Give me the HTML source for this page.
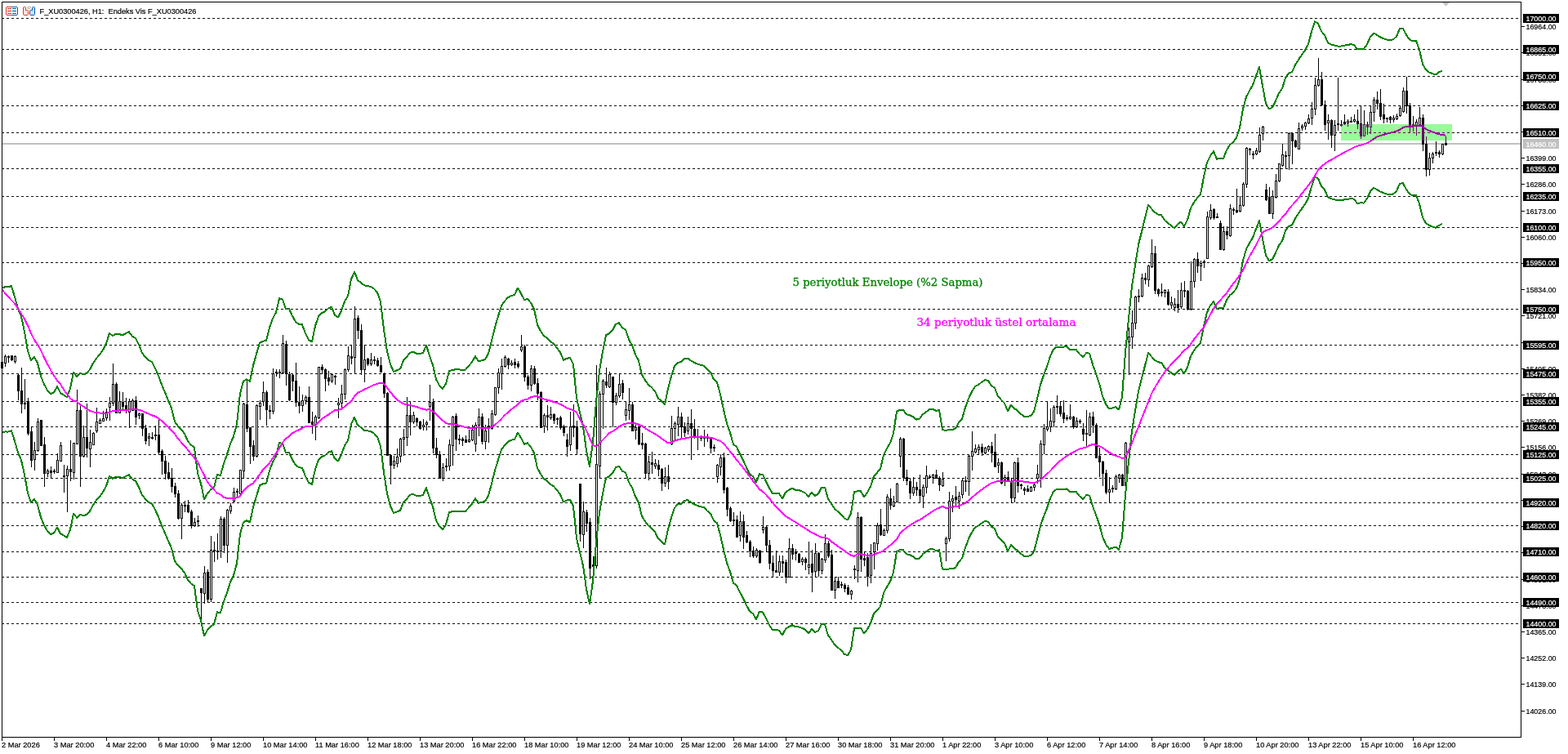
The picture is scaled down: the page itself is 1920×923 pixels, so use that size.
<!DOCTYPE html><html><head><meta charset="utf-8"><title>F_XU0300426,H1</title><style>
html,body{margin:0;padding:0;background:#fff;width:1920px;height:923px;overflow:hidden}
svg{display:block}
.t{font-family:"Liberation Sans","DejaVu Sans",sans-serif;font-size:9.6px;fill:#000;stroke:#000;stroke-width:0.2px}
.w{fill:#fff;stroke:#fff}
.ann{font-family:"DejaVu Serif","Liberation Serif",serif;font-size:13px;stroke-width:0.3px}
</style></head><body>
<svg width="1920" height="923" viewBox="0 0 1920 923">
<defs><clipPath id="ca"><rect x="3" y="3" width="1859" height="899"/></clipPath></defs>
<rect width="1920" height="923" fill="#fff"/>
<g stroke="#000" stroke-width="1" stroke-dasharray="3 3" shape-rendering="crispEdges">
<line x1="2" y1="22.5" x2="1862" y2="22.5"/>
<line x1="2" y1="60.5" x2="1862" y2="60.5"/>
<line x1="2" y1="93.5" x2="1862" y2="93.5"/>
<line x1="2" y1="129.5" x2="1862" y2="129.5"/>
<line x1="2" y1="162.5" x2="1862" y2="162.5"/>
<line x1="2" y1="206.5" x2="1862" y2="206.5"/>
<line x1="2" y1="240.5" x2="1862" y2="240.5"/>
<line x1="2" y1="278.5" x2="1862" y2="278.5"/>
<line x1="2" y1="321.5" x2="1862" y2="321.5"/>
<line x1="2" y1="378.5" x2="1862" y2="378.5"/>
<line x1="2" y1="422.5" x2="1862" y2="422.5"/>
<line x1="2" y1="457.5" x2="1862" y2="457.5"/>
<line x1="2" y1="491.5" x2="1862" y2="491.5"/>
<line x1="2" y1="522.5" x2="1862" y2="522.5"/>
<line x1="2" y1="556.5" x2="1862" y2="556.5"/>
<line x1="2" y1="585.5" x2="1862" y2="585.5"/>
<line x1="2" y1="615.5" x2="1862" y2="615.5"/>
<line x1="2" y1="643.5" x2="1862" y2="643.5"/>
<line x1="2" y1="675.5" x2="1862" y2="675.5"/>
<line x1="2" y1="706.5" x2="1862" y2="706.5"/>
<line x1="2" y1="737.5" x2="1862" y2="737.5"/>
<line x1="2" y1="763.5" x2="1862" y2="763.5"/>
</g>
<rect x="3" y="175" width="1859" height="2" fill="#c0c0c0"/>
<g fill="#000" shape-rendering="crispEdges"><rect x="2" y="443" width="1" height="8"/><rect x="1" y="443" width="3" height="8"/><rect x="6" y="434" width="1" height="15"/><rect x="5" y="436" width="3" height="9"/><rect x="10" y="435" width="1" height="9"/><rect x="9" y="436" width="3" height="2"/><rect x="14" y="435" width="1" height="7"/><rect x="13" y="435" width="3" height="6"/><rect x="18" y="435" width="1" height="10"/><rect x="17" y="436" width="3" height="7"/><rect x="22" y="458" width="1" height="32"/><rect x="21" y="459" width="3" height="20"/><rect x="26" y="450" width="1" height="56"/><rect x="25" y="478" width="3" height="17"/><rect x="30" y="464" width="1" height="37"/><rect x="29" y="493" width="3" height="2"/><rect x="34" y="487" width="1" height="46"/><rect x="33" y="491" width="3" height="40"/><rect x="38" y="523" width="1" height="49"/><rect x="37" y="528" width="3" height="36"/><rect x="42" y="541" width="1" height="35"/><rect x="41" y="551" width="3" height="12"/><rect x="46" y="512" width="1" height="41"/><rect x="45" y="516" width="3" height="36"/><rect x="50" y="514" width="1" height="32"/><rect x="49" y="514" width="3" height="32"/><rect x="54" y="535" width="1" height="61"/><rect x="53" y="544" width="3" height="36"/><rect x="58" y="574" width="1" height="10"/><rect x="57" y="576" width="3" height="4"/><rect x="62" y="571" width="1" height="15"/><rect x="61" y="576" width="3" height="3"/><rect x="66" y="574" width="1" height="6"/><rect x="65" y="576" width="3" height="2"/><rect x="70" y="555" width="1" height="24"/><rect x="69" y="563" width="3" height="16"/><rect x="74" y="541" width="1" height="24"/><rect x="73" y="545" width="3" height="20"/><rect x="78" y="569" width="1" height="34"/><rect x="77" y="582" width="3" height="2"/><rect x="82" y="570" width="1" height="57"/><rect x="81" y="574" width="3" height="9"/><rect x="86" y="539" width="1" height="50"/><rect x="85" y="574" width="3" height="4"/><rect x="90" y="542" width="1" height="45"/><rect x="89" y="542" width="3" height="37"/><rect x="94" y="477" width="1" height="67"/><rect x="93" y="502" width="3" height="42"/><rect x="98" y="497" width="1" height="99"/><rect x="97" y="502" width="3" height="57"/><rect x="102" y="521" width="1" height="39"/><rect x="101" y="535" width="3" height="24"/><rect x="106" y="494" width="1" height="66"/><rect x="105" y="535" width="3" height="14"/><rect x="110" y="526" width="1" height="46"/><rect x="109" y="541" width="3" height="9"/><rect x="114" y="529" width="1" height="16"/><rect x="113" y="530" width="3" height="15"/><rect x="118" y="499" width="1" height="31"/><rect x="117" y="516" width="3" height="12"/><rect x="122" y="512" width="1" height="7"/><rect x="121" y="514" width="3" height="5"/><rect x="126" y="503" width="1" height="13"/><rect x="125" y="512" width="3" height="4"/><rect x="130" y="500" width="1" height="15"/><rect x="129" y="504" width="3" height="8"/><rect x="134" y="486" width="1" height="29"/><rect x="133" y="493" width="3" height="6"/><rect x="138" y="445" width="1" height="52"/><rect x="137" y="470" width="3" height="24"/><rect x="142" y="468" width="1" height="38"/><rect x="141" y="470" width="3" height="36"/><rect x="146" y="479" width="1" height="27"/><rect x="145" y="491" width="3" height="15"/><rect x="150" y="480" width="1" height="23"/><rect x="149" y="492" width="3" height="6"/><rect x="154" y="487" width="1" height="19"/><rect x="153" y="496" width="3" height="6"/><rect x="158" y="488" width="1" height="36"/><rect x="157" y="491" width="3" height="14"/><rect x="162" y="488" width="1" height="15"/><rect x="161" y="490" width="3" height="13"/><rect x="166" y="485" width="1" height="35"/><rect x="165" y="490" width="3" height="21"/><rect x="170" y="505" width="1" height="8"/><rect x="169" y="506" width="3" height="3"/><rect x="174" y="506" width="1" height="28"/><rect x="173" y="506" width="3" height="19"/><rect x="178" y="520" width="1" height="24"/><rect x="177" y="524" width="3" height="16"/><rect x="182" y="530" width="1" height="16"/><rect x="181" y="534" width="3" height="3"/><rect x="186" y="529" width="1" height="9"/><rect x="185" y="535" width="3" height="2"/><rect x="190" y="521" width="1" height="18"/><rect x="189" y="532" width="3" height="2"/><rect x="194" y="514" width="1" height="43"/><rect x="193" y="532" width="3" height="22"/><rect x="198" y="550" width="1" height="31"/><rect x="197" y="552" width="3" height="13"/><rect x="202" y="558" width="1" height="29"/><rect x="201" y="564" width="3" height="16"/><rect x="206" y="566" width="1" height="21"/><rect x="205" y="578" width="3" height="8"/><rect x="210" y="573" width="1" height="30"/><rect x="209" y="585" width="3" height="11"/><rect x="214" y="591" width="1" height="18"/><rect x="213" y="595" width="3" height="10"/><rect x="218" y="600" width="1" height="36"/><rect x="217" y="604" width="3" height="31"/><rect x="222" y="616" width="1" height="44"/><rect x="221" y="618" width="3" height="17"/><rect x="226" y="613" width="1" height="14"/><rect x="225" y="618" width="3" height="2"/><rect x="230" y="612" width="1" height="16"/><rect x="229" y="618" width="3" height="9"/><rect x="234" y="624" width="1" height="23"/><rect x="233" y="626" width="3" height="18"/><rect x="238" y="634" width="1" height="11"/><rect x="237" y="639" width="3" height="5"/><rect x="242" y="631" width="1" height="14"/><rect x="241" y="637" width="3" height="2"/><rect x="246" y="720" width="1" height="38"/><rect x="245" y="720" width="3" height="6"/><rect x="250" y="693" width="1" height="46"/><rect x="249" y="701" width="3" height="26"/><rect x="254" y="697" width="1" height="41"/><rect x="253" y="700" width="3" height="34"/><rect x="258" y="656" width="1" height="81"/><rect x="257" y="673" width="3" height="61"/><rect x="262" y="663" width="1" height="25"/><rect x="261" y="673" width="3" height="2"/><rect x="266" y="653" width="1" height="32"/><rect x="265" y="674" width="3" height="2"/><rect x="270" y="632" width="1" height="51"/><rect x="269" y="635" width="3" height="40"/><rect x="274" y="633" width="1" height="44"/><rect x="273" y="635" width="3" height="33"/><rect x="278" y="623" width="1" height="66"/><rect x="277" y="624" width="3" height="44"/><rect x="282" y="616" width="1" height="13"/><rect x="281" y="619" width="3" height="7"/><rect x="286" y="597" width="1" height="18"/><rect x="285" y="602" width="3" height="12"/><rect x="290" y="598" width="1" height="11"/><rect x="289" y="601" width="3" height="2"/><rect x="294" y="575" width="1" height="31"/><rect x="293" y="575" width="3" height="30"/><rect x="298" y="493" width="1" height="92"/><rect x="297" y="494" width="3" height="83"/><rect x="302" y="465" width="1" height="64"/><rect x="301" y="495" width="3" height="30"/><rect x="306" y="523" width="1" height="45"/><rect x="305" y="523" width="3" height="24"/><rect x="310" y="539" width="1" height="25"/><rect x="309" y="545" width="3" height="14"/><rect x="314" y="495" width="1" height="65"/><rect x="313" y="496" width="3" height="63"/><rect x="318" y="490" width="1" height="24"/><rect x="317" y="493" width="3" height="5"/><rect x="322" y="467" width="1" height="30"/><rect x="321" y="480" width="3" height="12"/><rect x="326" y="478" width="1" height="43"/><rect x="325" y="480" width="3" height="22"/><rect x="330" y="496" width="1" height="17"/><rect x="329" y="502" width="3" height="2"/><rect x="334" y="451" width="1" height="56"/><rect x="333" y="457" width="3" height="47"/><rect x="338" y="452" width="1" height="9"/><rect x="337" y="455" width="3" height="2"/><rect x="342" y="452" width="1" height="11"/><rect x="341" y="455" width="3" height="2"/><rect x="346" y="410" width="1" height="47"/><rect x="345" y="420" width="3" height="37"/><rect x="350" y="417" width="1" height="55"/><rect x="349" y="421" width="3" height="37"/><rect x="354" y="455" width="1" height="36"/><rect x="353" y="458" width="3" height="32"/><rect x="358" y="457" width="1" height="22"/><rect x="357" y="459" width="3" height="8"/><rect x="362" y="444" width="1" height="54"/><rect x="361" y="466" width="3" height="27"/><rect x="366" y="473" width="1" height="33"/><rect x="365" y="492" width="3" height="5"/><rect x="370" y="483" width="1" height="21"/><rect x="369" y="490" width="3" height="7"/><rect x="374" y="484" width="1" height="11"/><rect x="373" y="486" width="3" height="5"/><rect x="378" y="473" width="1" height="45"/><rect x="377" y="486" width="3" height="32"/><rect x="382" y="504" width="1" height="27"/><rect x="381" y="516" width="3" height="4"/><rect x="386" y="508" width="1" height="31"/><rect x="385" y="510" width="3" height="11"/><rect x="390" y="449" width="1" height="64"/><rect x="389" y="449" width="3" height="63"/><rect x="394" y="446" width="1" height="12"/><rect x="393" y="449" width="3" height="4"/><rect x="398" y="451" width="1" height="28"/><rect x="397" y="452" width="3" height="12"/><rect x="402" y="454" width="1" height="18"/><rect x="401" y="462" width="3" height="5"/><rect x="406" y="457" width="1" height="12"/><rect x="405" y="458" width="3" height="9"/><rect x="410" y="459" width="1" height="12"/><rect x="409" y="460" width="3" height="2"/><rect x="414" y="487" width="1" height="25"/><rect x="413" y="493" width="3" height="3"/><rect x="418" y="471" width="1" height="29"/><rect x="417" y="482" width="3" height="12"/><rect x="422" y="451" width="1" height="38"/><rect x="421" y="452" width="3" height="31"/><rect x="426" y="424" width="1" height="31"/><rect x="425" y="435" width="3" height="18"/><rect x="430" y="422" width="1" height="24"/><rect x="429" y="436" width="3" height="3"/><rect x="434" y="375" width="1" height="82"/><rect x="433" y="390" width="3" height="48"/><rect x="438" y="386" width="1" height="29"/><rect x="437" y="389" width="3" height="16"/><rect x="442" y="397" width="1" height="62"/><rect x="441" y="404" width="3" height="49"/><rect x="446" y="422" width="1" height="46"/><rect x="445" y="440" width="3" height="13"/><rect x="450" y="438" width="1" height="10"/><rect x="449" y="439" width="3" height="7"/><rect x="454" y="432" width="1" height="16"/><rect x="453" y="440" width="3" height="6"/><rect x="458" y="436" width="1" height="10"/><rect x="457" y="440" width="3" height="2"/><rect x="462" y="438" width="1" height="11"/><rect x="461" y="441" width="3" height="7"/><rect x="466" y="437" width="1" height="19"/><rect x="465" y="447" width="3" height="9"/><rect x="470" y="456" width="1" height="31"/><rect x="469" y="457" width="3" height="25"/><rect x="474" y="480" width="1" height="78"/><rect x="473" y="481" width="3" height="77"/><rect x="478" y="556" width="1" height="37"/><rect x="477" y="557" width="3" height="13"/><rect x="482" y="558" width="1" height="16"/><rect x="481" y="564" width="3" height="6"/><rect x="486" y="549" width="1" height="23"/><rect x="485" y="559" width="3" height="9"/><rect x="490" y="536" width="1" height="30"/><rect x="489" y="537" width="3" height="22"/><rect x="494" y="525" width="1" height="33"/><rect x="493" y="535" width="3" height="3"/><rect x="498" y="486" width="1" height="60"/><rect x="497" y="508" width="3" height="28"/><rect x="502" y="491" width="1" height="42"/><rect x="501" y="508" width="3" height="9"/><rect x="506" y="504" width="1" height="15"/><rect x="505" y="508" width="3" height="9"/><rect x="510" y="511" width="1" height="11"/><rect x="509" y="512" width="3" height="5"/><rect x="514" y="515" width="1" height="11"/><rect x="513" y="516" width="3" height="9"/><rect x="518" y="513" width="1" height="14"/><rect x="517" y="520" width="3" height="3"/><rect x="522" y="515" width="1" height="12"/><rect x="521" y="517" width="3" height="3"/><rect x="526" y="471" width="1" height="44"/><rect x="525" y="492" width="3" height="6"/><rect x="530" y="488" width="1" height="67"/><rect x="529" y="492" width="3" height="57"/><rect x="534" y="536" width="1" height="25"/><rect x="533" y="548" width="3" height="9"/><rect x="538" y="552" width="1" height="34"/><rect x="537" y="556" width="3" height="30"/><rect x="542" y="567" width="1" height="22"/><rect x="541" y="572" width="3" height="14"/><rect x="546" y="561" width="1" height="16"/><rect x="545" y="570" width="3" height="2"/><rect x="550" y="538" width="1" height="38"/><rect x="549" y="544" width="3" height="27"/><rect x="554" y="509" width="1" height="61"/><rect x="553" y="510" width="3" height="36"/><rect x="558" y="506" width="1" height="46"/><rect x="557" y="509" width="3" height="29"/><rect x="562" y="532" width="1" height="12"/><rect x="561" y="537" width="3" height="2"/><rect x="566" y="535" width="1" height="11"/><rect x="565" y="537" width="3" height="3"/><rect x="570" y="533" width="1" height="9"/><rect x="569" y="538" width="3" height="4"/><rect x="574" y="526" width="1" height="16"/><rect x="573" y="538" width="3" height="3"/><rect x="578" y="520" width="1" height="20"/><rect x="577" y="526" width="3" height="13"/><rect x="582" y="517" width="1" height="36"/><rect x="581" y="520" width="3" height="24"/><rect x="586" y="500" width="1" height="34"/><rect x="585" y="510" width="3" height="11"/><rect x="590" y="506" width="1" height="38"/><rect x="589" y="510" width="3" height="31"/><rect x="594" y="520" width="1" height="30"/><rect x="593" y="527" width="3" height="14"/><rect x="598" y="512" width="1" height="30"/><rect x="597" y="521" width="3" height="4"/><rect x="602" y="502" width="1" height="24"/><rect x="601" y="506" width="3" height="19"/><rect x="606" y="474" width="1" height="35"/><rect x="605" y="474" width="3" height="34"/><rect x="610" y="451" width="1" height="31"/><rect x="609" y="456" width="3" height="19"/><rect x="614" y="439" width="1" height="38"/><rect x="613" y="448" width="3" height="10"/><rect x="618" y="435" width="1" height="15"/><rect x="617" y="437" width="3" height="12"/><rect x="622" y="438" width="1" height="14"/><rect x="621" y="439" width="3" height="8"/><rect x="626" y="441" width="1" height="7"/><rect x="625" y="444" width="3" height="3"/><rect x="630" y="439" width="1" height="12"/><rect x="629" y="443" width="3" height="4"/><rect x="634" y="442" width="1" height="9"/><rect x="633" y="445" width="3" height="4"/><rect x="638" y="410" width="1" height="21"/><rect x="637" y="424" width="3" height="5"/><rect x="642" y="422" width="1" height="45"/><rect x="641" y="424" width="3" height="38"/><rect x="646" y="459" width="1" height="18"/><rect x="645" y="461" width="3" height="11"/><rect x="650" y="447" width="1" height="32"/><rect x="649" y="451" width="3" height="21"/><rect x="654" y="448" width="1" height="23"/><rect x="653" y="451" width="3" height="19"/><rect x="658" y="463" width="1" height="27"/><rect x="657" y="469" width="3" height="13"/><rect x="662" y="479" width="1" height="45"/><rect x="661" y="480" width="3" height="44"/><rect x="666" y="506" width="1" height="24"/><rect x="665" y="508" width="3" height="14"/><rect x="670" y="496" width="1" height="31"/><rect x="669" y="508" width="3" height="3"/><rect x="674" y="498" width="1" height="16"/><rect x="673" y="507" width="3" height="5"/><rect x="678" y="506" width="1" height="13"/><rect x="677" y="507" width="3" height="8"/><rect x="682" y="511" width="1" height="9"/><rect x="681" y="512" width="3" height="2"/><rect x="686" y="509" width="1" height="17"/><rect x="685" y="511" width="3" height="13"/><rect x="690" y="520" width="1" height="14"/><rect x="689" y="522" width="3" height="8"/><rect x="694" y="531" width="1" height="28"/><rect x="693" y="538" width="3" height="9"/><rect x="698" y="504" width="1" height="48"/><rect x="697" y="522" width="3" height="23"/><rect x="702" y="495" width="1" height="40"/><rect x="701" y="521" width="3" height="3"/><rect x="706" y="515" width="1" height="42"/><rect x="705" y="522" width="3" height="28"/><rect x="710" y="592" width="1" height="71"/><rect x="709" y="592" width="3" height="62"/><rect x="714" y="614" width="1" height="57"/><rect x="713" y="626" width="3" height="29"/><rect x="718" y="624" width="1" height="27"/><rect x="717" y="627" width="3" height="14"/><rect x="722" y="634" width="1" height="75"/><rect x="721" y="639" width="3" height="57"/><rect x="726" y="681" width="1" height="18"/><rect x="725" y="691" width="3" height="3"/><rect x="730" y="447" width="1" height="249"/><rect x="729" y="568" width="3" height="125"/><rect x="734" y="479" width="1" height="106"/><rect x="733" y="482" width="3" height="89"/><rect x="738" y="464" width="1" height="61"/><rect x="737" y="466" width="3" height="17"/><rect x="742" y="450" width="1" height="25"/><rect x="741" y="467" width="3" height="5"/><rect x="746" y="455" width="1" height="20"/><rect x="745" y="458" width="3" height="16"/><rect x="750" y="461" width="1" height="62"/><rect x="749" y="461" width="3" height="32"/><rect x="754" y="481" width="1" height="15"/><rect x="753" y="484" width="3" height="9"/><rect x="758" y="457" width="1" height="30"/><rect x="757" y="470" width="3" height="15"/><rect x="762" y="465" width="1" height="24"/><rect x="761" y="469" width="3" height="12"/><rect x="766" y="491" width="1" height="24"/><rect x="765" y="501" width="3" height="8"/><rect x="770" y="475" width="1" height="39"/><rect x="769" y="495" width="3" height="8"/><rect x="774" y="492" width="1" height="36"/><rect x="773" y="495" width="3" height="33"/><rect x="778" y="520" width="1" height="18"/><rect x="777" y="523" width="3" height="4"/><rect x="782" y="521" width="1" height="24"/><rect x="781" y="522" width="3" height="22"/><rect x="786" y="530" width="1" height="20"/><rect x="785" y="542" width="3" height="3"/><rect x="790" y="542" width="1" height="43"/><rect x="789" y="543" width="3" height="37"/><rect x="794" y="558" width="1" height="30"/><rect x="793" y="565" width="3" height="15"/><rect x="798" y="553" width="1" height="27"/><rect x="797" y="566" width="3" height="3"/><rect x="802" y="562" width="1" height="12"/><rect x="801" y="567" width="3" height="4"/><rect x="806" y="563" width="1" height="20"/><rect x="805" y="569" width="3" height="6"/><rect x="810" y="573" width="1" height="28"/><rect x="809" y="574" width="3" height="18"/><rect x="814" y="572" width="1" height="24"/><rect x="813" y="583" width="3" height="9"/><rect x="818" y="569" width="1" height="30"/><rect x="817" y="583" width="3" height="7"/><rect x="822" y="509" width="1" height="36"/><rect x="821" y="524" width="3" height="20"/><rect x="826" y="516" width="1" height="24"/><rect x="825" y="518" width="3" height="7"/><rect x="830" y="498" width="1" height="36"/><rect x="829" y="510" width="3" height="10"/><rect x="834" y="505" width="1" height="31"/><rect x="833" y="510" width="3" height="13"/><rect x="838" y="517" width="1" height="18"/><rect x="837" y="522" width="3" height="8"/><rect x="842" y="510" width="1" height="22"/><rect x="841" y="518" width="3" height="10"/><rect x="846" y="501" width="1" height="62"/><rect x="845" y="518" width="3" height="7"/><rect x="850" y="513" width="1" height="24"/><rect x="849" y="525" width="3" height="10"/><rect x="854" y="525" width="1" height="26"/><rect x="853" y="534" width="3" height="2"/><rect x="858" y="533" width="1" height="7"/><rect x="857" y="535" width="3" height="2"/><rect x="862" y="526" width="1" height="21"/><rect x="861" y="534" width="3" height="3"/><rect x="866" y="531" width="1" height="10"/><rect x="865" y="534" width="3" height="3"/><rect x="870" y="536" width="1" height="19"/><rect x="869" y="537" width="3" height="12"/><rect x="874" y="544" width="1" height="9"/><rect x="873" y="547" width="3" height="2"/><rect x="878" y="568" width="1" height="23"/><rect x="877" y="569" width="3" height="15"/><rect x="882" y="556" width="1" height="26"/><rect x="881" y="560" width="3" height="12"/><rect x="886" y="554" width="1" height="50"/><rect x="885" y="560" width="3" height="40"/><rect x="890" y="596" width="1" height="36"/><rect x="889" y="597" width="3" height="27"/><rect x="894" y="620" width="1" height="19"/><rect x="893" y="622" width="3" height="16"/><rect x="898" y="627" width="1" height="17"/><rect x="897" y="636" width="3" height="2"/><rect x="902" y="631" width="1" height="27"/><rect x="901" y="636" width="3" height="22"/><rect x="906" y="626" width="1" height="37"/><rect x="905" y="638" width="3" height="18"/><rect x="910" y="630" width="1" height="42"/><rect x="909" y="638" width="3" height="20"/><rect x="914" y="650" width="1" height="15"/><rect x="913" y="655" width="3" height="9"/><rect x="918" y="661" width="1" height="21"/><rect x="917" y="663" width="3" height="12"/><rect x="922" y="669" width="1" height="14"/><rect x="921" y="674" width="3" height="7"/><rect x="926" y="671" width="1" height="12"/><rect x="925" y="673" width="3" height="8"/><rect x="930" y="673" width="1" height="17"/><rect x="929" y="674" width="3" height="15"/><rect x="934" y="632" width="1" height="21"/><rect x="933" y="645" width="3" height="4"/><rect x="938" y="644" width="1" height="31"/><rect x="937" y="645" width="3" height="23"/><rect x="942" y="661" width="1" height="36"/><rect x="941" y="667" width="3" height="23"/><rect x="946" y="680" width="1" height="27"/><rect x="945" y="689" width="3" height="10"/><rect x="950" y="674" width="1" height="27"/><rect x="949" y="698" width="3" height="3"/><rect x="954" y="680" width="1" height="25"/><rect x="953" y="687" width="3" height="14"/><rect x="958" y="680" width="1" height="21"/><rect x="957" y="687" width="3" height="3"/><rect x="962" y="685" width="1" height="29"/><rect x="961" y="688" width="3" height="19"/><rect x="966" y="659" width="1" height="48"/><rect x="965" y="671" width="3" height="36"/><rect x="970" y="666" width="1" height="19"/><rect x="969" y="671" width="3" height="8"/><rect x="974" y="672" width="1" height="14"/><rect x="973" y="675" width="3" height="3"/><rect x="978" y="677" width="1" height="12"/><rect x="977" y="678" width="3" height="11"/><rect x="982" y="682" width="1" height="10"/><rect x="981" y="684" width="3" height="4"/><rect x="986" y="682" width="1" height="16"/><rect x="985" y="684" width="3" height="5"/><rect x="990" y="663" width="1" height="40"/><rect x="989" y="691" width="3" height="4"/><rect x="994" y="673" width="1" height="52"/><rect x="993" y="690" width="3" height="11"/><rect x="998" y="665" width="1" height="42"/><rect x="997" y="677" width="3" height="23"/><rect x="1002" y="676" width="1" height="30"/><rect x="1001" y="677" width="3" height="22"/><rect x="1006" y="683" width="1" height="20"/><rect x="1005" y="684" width="3" height="15"/><rect x="1010" y="654" width="1" height="35"/><rect x="1009" y="665" width="3" height="21"/><rect x="1014" y="662" width="1" height="21"/><rect x="1013" y="665" width="3" height="16"/><rect x="1018" y="673" width="1" height="50"/><rect x="1017" y="679" width="3" height="44"/><rect x="1022" y="706" width="1" height="27"/><rect x="1021" y="711" width="3" height="12"/><rect x="1026" y="706" width="1" height="14"/><rect x="1025" y="711" width="3" height="9"/><rect x="1030" y="712" width="1" height="8"/><rect x="1029" y="715" width="3" height="2"/><rect x="1034" y="714" width="1" height="11"/><rect x="1033" y="716" width="3" height="5"/><rect x="1038" y="716" width="1" height="12"/><rect x="1037" y="719" width="3" height="9"/><rect x="1042" y="722" width="1" height="12"/><rect x="1041" y="723" width="3" height="5"/><rect x="1046" y="692" width="1" height="17"/><rect x="1045" y="696" width="3" height="2"/><rect x="1050" y="627" width="1" height="86"/><rect x="1049" y="633" width="3" height="66"/><rect x="1054" y="632" width="1" height="68"/><rect x="1053" y="633" width="3" height="52"/><rect x="1058" y="675" width="1" height="18"/><rect x="1057" y="683" width="3" height="3"/><rect x="1062" y="677" width="1" height="41"/><rect x="1061" y="682" width="3" height="24"/><rect x="1066" y="666" width="1" height="48"/><rect x="1065" y="677" width="3" height="28"/><rect x="1070" y="664" width="1" height="33"/><rect x="1069" y="664" width="3" height="12"/><rect x="1074" y="640" width="1" height="34"/><rect x="1073" y="643" width="3" height="23"/><rect x="1078" y="623" width="1" height="33"/><rect x="1077" y="642" width="3" height="13"/><rect x="1082" y="647" width="1" height="9"/><rect x="1081" y="649" width="3" height="7"/><rect x="1086" y="605" width="1" height="48"/><rect x="1085" y="608" width="3" height="42"/><rect x="1090" y="598" width="1" height="26"/><rect x="1089" y="610" width="3" height="9"/><rect x="1094" y="607" width="1" height="14"/><rect x="1093" y="614" width="3" height="6"/><rect x="1098" y="591" width="1" height="24"/><rect x="1097" y="592" width="3" height="23"/><rect x="1102" y="535" width="1" height="37"/><rect x="1101" y="537" width="3" height="22"/><rect x="1106" y="536" width="1" height="53"/><rect x="1105" y="537" width="3" height="48"/><rect x="1110" y="575" width="1" height="19"/><rect x="1109" y="584" width="3" height="5"/><rect x="1114" y="585" width="1" height="26"/><rect x="1113" y="589" width="3" height="15"/><rect x="1118" y="584" width="1" height="23"/><rect x="1117" y="596" width="3" height="8"/><rect x="1122" y="590" width="1" height="17"/><rect x="1121" y="596" width="3" height="4"/><rect x="1126" y="581" width="1" height="34"/><rect x="1125" y="599" width="3" height="8"/><rect x="1130" y="593" width="1" height="29"/><rect x="1129" y="596" width="3" height="12"/><rect x="1134" y="570" width="1" height="34"/><rect x="1133" y="582" width="3" height="15"/><rect x="1138" y="581" width="1" height="5"/><rect x="1137" y="583" width="3" height="2"/><rect x="1142" y="580" width="1" height="12"/><rect x="1141" y="581" width="3" height="4"/><rect x="1146" y="575" width="1" height="11"/><rect x="1145" y="581" width="3" height="5"/><rect x="1150" y="583" width="1" height="18"/><rect x="1149" y="585" width="3" height="9"/><rect x="1154" y="578" width="1" height="18"/><rect x="1153" y="586" width="3" height="9"/><rect x="1158" y="657" width="1" height="30"/><rect x="1157" y="659" width="3" height="7"/><rect x="1162" y="602" width="1" height="61"/><rect x="1161" y="613" width="3" height="47"/><rect x="1166" y="606" width="1" height="21"/><rect x="1165" y="610" width="3" height="4"/><rect x="1170" y="595" width="1" height="25"/><rect x="1169" y="608" width="3" height="4"/><rect x="1174" y="602" width="1" height="21"/><rect x="1173" y="607" width="3" height="7"/><rect x="1178" y="586" width="1" height="24"/><rect x="1177" y="588" width="3" height="18"/><rect x="1182" y="583" width="1" height="19"/><rect x="1181" y="588" width="3" height="2"/><rect x="1186" y="557" width="1" height="50"/><rect x="1185" y="558" width="3" height="32"/><rect x="1190" y="528" width="1" height="48"/><rect x="1189" y="552" width="3" height="7"/><rect x="1194" y="544" width="1" height="11"/><rect x="1193" y="549" width="3" height="5"/><rect x="1198" y="544" width="1" height="13"/><rect x="1197" y="547" width="3" height="4"/><rect x="1202" y="543" width="1" height="15"/><rect x="1201" y="547" width="3" height="7"/><rect x="1206" y="547" width="1" height="9"/><rect x="1205" y="548" width="3" height="7"/><rect x="1210" y="545" width="1" height="8"/><rect x="1209" y="546" width="3" height="5"/><rect x="1214" y="541" width="1" height="25"/><rect x="1213" y="546" width="3" height="9"/><rect x="1218" y="531" width="1" height="41"/><rect x="1217" y="553" width="3" height="19"/><rect x="1222" y="561" width="1" height="18"/><rect x="1221" y="566" width="3" height="4"/><rect x="1226" y="565" width="1" height="28"/><rect x="1225" y="566" width="3" height="26"/><rect x="1230" y="581" width="1" height="14"/><rect x="1229" y="584" width="3" height="4"/><rect x="1234" y="577" width="1" height="12"/><rect x="1233" y="584" width="3" height="4"/><rect x="1238" y="585" width="1" height="31"/><rect x="1237" y="590" width="3" height="20"/><rect x="1242" y="565" width="1" height="50"/><rect x="1241" y="566" width="3" height="44"/><rect x="1246" y="560" width="1" height="43"/><rect x="1245" y="566" width="3" height="29"/><rect x="1250" y="592" width="1" height="7"/><rect x="1249" y="593" width="3" height="2"/><rect x="1254" y="596" width="1" height="10"/><rect x="1253" y="598" width="3" height="3"/><rect x="1258" y="594" width="1" height="8"/><rect x="1257" y="598" width="3" height="4"/><rect x="1262" y="595" width="1" height="7"/><rect x="1261" y="596" width="3" height="6"/><rect x="1266" y="592" width="1" height="9"/><rect x="1265" y="593" width="3" height="4"/><rect x="1270" y="569" width="1" height="23"/><rect x="1269" y="580" width="3" height="6"/><rect x="1274" y="539" width="1" height="58"/><rect x="1273" y="543" width="3" height="43"/><rect x="1278" y="519" width="1" height="37"/><rect x="1277" y="524" width="3" height="21"/><rect x="1282" y="491" width="1" height="37"/><rect x="1281" y="522" width="3" height="4"/><rect x="1286" y="500" width="1" height="29"/><rect x="1285" y="515" width="3" height="8"/><rect x="1290" y="496" width="1" height="27"/><rect x="1289" y="498" width="3" height="19"/><rect x="1294" y="484" width="1" height="23"/><rect x="1293" y="497" width="3" height="2"/><rect x="1298" y="491" width="1" height="19"/><rect x="1297" y="497" width="3" height="10"/><rect x="1302" y="490" width="1" height="28"/><rect x="1301" y="505" width="3" height="8"/><rect x="1306" y="508" width="1" height="7"/><rect x="1305" y="511" width="3" height="2"/><rect x="1310" y="495" width="1" height="19"/><rect x="1309" y="510" width="3" height="3"/><rect x="1314" y="509" width="1" height="16"/><rect x="1313" y="510" width="3" height="13"/><rect x="1318" y="511" width="1" height="13"/><rect x="1317" y="515" width="3" height="8"/><rect x="1322" y="513" width="1" height="6"/><rect x="1321" y="515" width="3" height="2"/><rect x="1326" y="518" width="1" height="22"/><rect x="1325" y="525" width="3" height="7"/><rect x="1330" y="502" width="1" height="44"/><rect x="1329" y="530" width="3" height="2"/><rect x="1334" y="505" width="1" height="29"/><rect x="1333" y="510" width="3" height="23"/><rect x="1338" y="504" width="1" height="26"/><rect x="1337" y="510" width="3" height="11"/><rect x="1342" y="518" width="1" height="43"/><rect x="1341" y="520" width="3" height="41"/><rect x="1346" y="548" width="1" height="36"/><rect x="1345" y="558" width="3" height="8"/><rect x="1350" y="564" width="1" height="31"/><rect x="1349" y="565" width="3" height="15"/><rect x="1354" y="575" width="1" height="30"/><rect x="1353" y="579" width="3" height="24"/><rect x="1358" y="584" width="1" height="32"/><rect x="1357" y="599" width="3" height="4"/><rect x="1362" y="594" width="1" height="9"/><rect x="1361" y="597" width="3" height="2"/><rect x="1366" y="581" width="1" height="19"/><rect x="1365" y="583" width="3" height="16"/><rect x="1370" y="580" width="1" height="11"/><rect x="1369" y="581" width="3" height="5"/><rect x="1374" y="580" width="1" height="15"/><rect x="1373" y="581" width="3" height="14"/><rect x="1378" y="541" width="1" height="55"/><rect x="1377" y="542" width="3" height="53"/><rect x="1382" y="401" width="1" height="58"/><rect x="1381" y="412" width="3" height="7"/><rect x="1386" y="380" width="1" height="47"/><rect x="1385" y="395" width="3" height="18"/><rect x="1390" y="362" width="1" height="41"/><rect x="1389" y="363" width="3" height="33"/><rect x="1394" y="354" width="1" height="16"/><rect x="1393" y="362" width="3" height="2"/><rect x="1398" y="335" width="1" height="29"/><rect x="1397" y="340" width="3" height="23"/><rect x="1402" y="334" width="1" height="14"/><rect x="1401" y="340" width="3" height="3"/><rect x="1406" y="324" width="1" height="27"/><rect x="1405" y="325" width="3" height="18"/><rect x="1410" y="293" width="1" height="35"/><rect x="1409" y="310" width="3" height="17"/><rect x="1414" y="301" width="1" height="59"/><rect x="1413" y="310" width="3" height="46"/><rect x="1418" y="353" width="1" height="10"/><rect x="1417" y="354" width="3" height="6"/><rect x="1422" y="347" width="1" height="16"/><rect x="1421" y="357" width="3" height="2"/><rect x="1426" y="354" width="1" height="10"/><rect x="1425" y="355" width="3" height="4"/><rect x="1430" y="354" width="1" height="20"/><rect x="1429" y="357" width="3" height="16"/><rect x="1434" y="363" width="1" height="15"/><rect x="1433" y="370" width="3" height="4"/><rect x="1438" y="365" width="1" height="16"/><rect x="1437" y="372" width="3" height="5"/><rect x="1442" y="355" width="1" height="28"/><rect x="1441" y="372" width="3" height="5"/><rect x="1446" y="346" width="1" height="32"/><rect x="1445" y="355" width="3" height="21"/><rect x="1450" y="344" width="1" height="20"/><rect x="1449" y="355" width="3" height="2"/><rect x="1454" y="355" width="1" height="25"/><rect x="1453" y="356" width="3" height="23"/><rect x="1458" y="320" width="1" height="60"/><rect x="1457" y="344" width="3" height="35"/><rect x="1462" y="316" width="1" height="36"/><rect x="1461" y="317" width="3" height="28"/><rect x="1466" y="309" width="1" height="25"/><rect x="1465" y="317" width="3" height="9"/><rect x="1470" y="319" width="1" height="25"/><rect x="1469" y="322" width="3" height="4"/><rect x="1474" y="318" width="1" height="10"/><rect x="1473" y="320" width="3" height="2"/><rect x="1478" y="259" width="1" height="58"/><rect x="1477" y="265" width="3" height="52"/><rect x="1482" y="250" width="1" height="19"/><rect x="1481" y="257" width="3" height="10"/><rect x="1486" y="255" width="1" height="14"/><rect x="1485" y="256" width="3" height="11"/><rect x="1490" y="261" width="1" height="6"/><rect x="1489" y="265" width="3" height="2"/><rect x="1494" y="270" width="1" height="36"/><rect x="1493" y="273" width="3" height="33"/><rect x="1498" y="277" width="1" height="30"/><rect x="1497" y="283" width="3" height="23"/><rect x="1502" y="277" width="1" height="16"/><rect x="1501" y="283" width="3" height="5"/><rect x="1506" y="250" width="1" height="40"/><rect x="1505" y="255" width="3" height="34"/><rect x="1510" y="254" width="1" height="9"/><rect x="1509" y="256" width="3" height="2"/><rect x="1514" y="231" width="1" height="30"/><rect x="1513" y="257" width="3" height="3"/><rect x="1518" y="240" width="1" height="20"/><rect x="1517" y="251" width="3" height="8"/><rect x="1522" y="223" width="1" height="30"/><rect x="1521" y="225" width="3" height="27"/><rect x="1526" y="180" width="1" height="50"/><rect x="1525" y="181" width="3" height="45"/><rect x="1530" y="181" width="1" height="9"/><rect x="1529" y="182" width="3" height="2"/><rect x="1534" y="185" width="1" height="10"/><rect x="1533" y="188" width="3" height="2"/><rect x="1538" y="181" width="1" height="9"/><rect x="1537" y="184" width="3" height="5"/><rect x="1542" y="156" width="1" height="31"/><rect x="1541" y="165" width="3" height="21"/><rect x="1546" y="154" width="1" height="18"/><rect x="1545" y="155" width="3" height="9"/><rect x="1550" y="225" width="1" height="21"/><rect x="1549" y="232" width="3" height="13"/><rect x="1554" y="229" width="1" height="33"/><rect x="1553" y="241" width="3" height="21"/><rect x="1558" y="233" width="1" height="35"/><rect x="1557" y="240" width="3" height="22"/><rect x="1562" y="213" width="1" height="30"/><rect x="1561" y="221" width="3" height="21"/><rect x="1566" y="200" width="1" height="23"/><rect x="1565" y="200" width="3" height="22"/><rect x="1570" y="176" width="1" height="28"/><rect x="1569" y="189" width="3" height="14"/><rect x="1574" y="185" width="1" height="21"/><rect x="1573" y="190" width="3" height="2"/><rect x="1578" y="162" width="1" height="46"/><rect x="1577" y="163" width="3" height="28"/><rect x="1582" y="162" width="1" height="39"/><rect x="1581" y="163" width="3" height="10"/><rect x="1586" y="171" width="1" height="10"/><rect x="1585" y="172" width="3" height="8"/><rect x="1590" y="150" width="1" height="33"/><rect x="1589" y="157" width="3" height="26"/><rect x="1594" y="152" width="1" height="8"/><rect x="1593" y="154" width="3" height="3"/><rect x="1598" y="149" width="1" height="10"/><rect x="1597" y="150" width="3" height="5"/><rect x="1602" y="140" width="1" height="12"/><rect x="1601" y="145" width="3" height="6"/><rect x="1606" y="125" width="1" height="28"/><rect x="1605" y="133" width="3" height="12"/><rect x="1610" y="95" width="1" height="46"/><rect x="1609" y="104" width="3" height="30"/><rect x="1614" y="71" width="1" height="35"/><rect x="1613" y="97" width="3" height="8"/><rect x="1618" y="88" width="1" height="42"/><rect x="1617" y="97" width="3" height="32"/><rect x="1622" y="123" width="1" height="37"/><rect x="1621" y="128" width="3" height="25"/><rect x="1626" y="140" width="1" height="31"/><rect x="1625" y="147" width="3" height="4"/><rect x="1630" y="146" width="1" height="35"/><rect x="1629" y="147" width="3" height="19"/><rect x="1634" y="147" width="1" height="38"/><rect x="1633" y="153" width="3" height="13"/><rect x="1638" y="95" width="1" height="65"/><rect x="1637" y="151" width="3" height="2"/><rect x="1642" y="147" width="1" height="8"/><rect x="1641" y="152" width="3" height="2"/><rect x="1646" y="140" width="1" height="13"/><rect x="1645" y="149" width="3" height="3"/><rect x="1650" y="146" width="1" height="9"/><rect x="1649" y="148" width="3" height="3"/><rect x="1654" y="143" width="1" height="7"/><rect x="1653" y="148" width="3" height="2"/><rect x="1658" y="140" width="1" height="10"/><rect x="1657" y="146" width="3" height="3"/><rect x="1662" y="134" width="1" height="24"/><rect x="1661" y="148" width="3" height="4"/><rect x="1666" y="129" width="1" height="41"/><rect x="1665" y="151" width="3" height="16"/><rect x="1670" y="135" width="1" height="32"/><rect x="1669" y="152" width="3" height="15"/><rect x="1674" y="149" width="1" height="16"/><rect x="1673" y="152" width="3" height="4"/><rect x="1678" y="129" width="1" height="35"/><rect x="1677" y="137" width="3" height="19"/><rect x="1682" y="119" width="1" height="30"/><rect x="1681" y="122" width="3" height="16"/><rect x="1686" y="112" width="1" height="22"/><rect x="1685" y="122" width="3" height="5"/><rect x="1690" y="109" width="1" height="38"/><rect x="1689" y="126" width="3" height="17"/><rect x="1694" y="127" width="1" height="24"/><rect x="1693" y="140" width="3" height="6"/><rect x="1698" y="144" width="1" height="6"/><rect x="1697" y="144" width="3" height="2"/><rect x="1702" y="142" width="1" height="9"/><rect x="1701" y="143" width="3" height="4"/><rect x="1706" y="141" width="1" height="9"/><rect x="1705" y="144" width="3" height="3"/><rect x="1710" y="139" width="1" height="8"/><rect x="1709" y="142" width="3" height="4"/><rect x="1714" y="129" width="1" height="14"/><rect x="1713" y="132" width="3" height="10"/><rect x="1718" y="107" width="1" height="31"/><rect x="1717" y="111" width="3" height="26"/><rect x="1722" y="94" width="1" height="45"/><rect x="1721" y="111" width="3" height="19"/><rect x="1726" y="126" width="1" height="37"/><rect x="1725" y="129" width="3" height="25"/><rect x="1730" y="142" width="1" height="19"/><rect x="1729" y="152" width="3" height="3"/><rect x="1734" y="146" width="1" height="20"/><rect x="1733" y="149" width="3" height="5"/><rect x="1738" y="131" width="1" height="22"/><rect x="1737" y="144" width="3" height="9"/><rect x="1742" y="140" width="1" height="45"/><rect x="1741" y="144" width="3" height="33"/><rect x="1746" y="167" width="1" height="49"/><rect x="1745" y="176" width="3" height="32"/><rect x="1750" y="187" width="1" height="28"/><rect x="1749" y="193" width="3" height="15"/><rect x="1754" y="186" width="1" height="14"/><rect x="1753" y="188" width="3" height="6"/><rect x="1758" y="173" width="1" height="18"/><rect x="1757" y="186" width="3" height="2"/><rect x="1762" y="184" width="1" height="9"/><rect x="1761" y="186" width="3" height="3"/><rect x="1766" y="176" width="1" height="14"/><rect x="1765" y="176" width="3" height="13"/><rect x="1770" y="167" width="1" height="11"/><rect x="1769" y="175" width="3" height="3"/></g>
<g fill="#fff" shape-rendering="crispEdges"><rect x="6" y="437" width="1" height="7"/><rect x="18" y="437" width="1" height="5"/><rect x="42" y="552" width="1" height="10"/><rect x="46" y="517" width="1" height="34"/><rect x="58" y="577" width="1" height="2"/><rect x="70" y="564" width="1" height="14"/><rect x="74" y="546" width="1" height="18"/><rect x="82" y="575" width="1" height="7"/><rect x="90" y="543" width="1" height="35"/><rect x="94" y="503" width="1" height="40"/><rect x="102" y="536" width="1" height="22"/><rect x="110" y="542" width="1" height="7"/><rect x="114" y="531" width="1" height="13"/><rect x="118" y="517" width="1" height="10"/><rect x="122" y="515" width="1" height="3"/><rect x="126" y="513" width="1" height="2"/><rect x="130" y="505" width="1" height="6"/><rect x="134" y="494" width="1" height="4"/><rect x="138" y="471" width="1" height="22"/><rect x="146" y="492" width="1" height="13"/><rect x="158" y="492" width="1" height="12"/><rect x="162" y="491" width="1" height="11"/><rect x="170" y="507" width="1" height="1"/><rect x="182" y="535" width="1" height="1"/><rect x="222" y="619" width="1" height="15"/><rect x="238" y="640" width="1" height="3"/><rect x="250" y="702" width="1" height="24"/><rect x="258" y="674" width="1" height="59"/><rect x="270" y="636" width="1" height="38"/><rect x="278" y="625" width="1" height="42"/><rect x="282" y="620" width="1" height="5"/><rect x="286" y="603" width="1" height="10"/><rect x="294" y="576" width="1" height="28"/><rect x="298" y="495" width="1" height="81"/><rect x="314" y="497" width="1" height="61"/><rect x="318" y="494" width="1" height="3"/><rect x="322" y="481" width="1" height="10"/><rect x="334" y="458" width="1" height="45"/><rect x="346" y="421" width="1" height="35"/><rect x="370" y="491" width="1" height="5"/><rect x="374" y="487" width="1" height="3"/><rect x="386" y="511" width="1" height="9"/><rect x="390" y="450" width="1" height="61"/><rect x="406" y="459" width="1" height="7"/><rect x="414" y="494" width="1" height="1"/><rect x="418" y="483" width="1" height="10"/><rect x="422" y="453" width="1" height="29"/><rect x="426" y="436" width="1" height="16"/><rect x="434" y="391" width="1" height="46"/><rect x="446" y="441" width="1" height="11"/><rect x="454" y="441" width="1" height="4"/><rect x="482" y="565" width="1" height="4"/><rect x="486" y="560" width="1" height="7"/><rect x="490" y="538" width="1" height="20"/><rect x="494" y="536" width="1" height="1"/><rect x="498" y="509" width="1" height="26"/><rect x="506" y="509" width="1" height="7"/><rect x="518" y="521" width="1" height="1"/><rect x="522" y="518" width="1" height="1"/><rect x="526" y="493" width="1" height="4"/><rect x="542" y="573" width="1" height="12"/><rect x="550" y="545" width="1" height="25"/><rect x="554" y="511" width="1" height="34"/><rect x="574" y="539" width="1" height="1"/><rect x="578" y="527" width="1" height="11"/><rect x="582" y="521" width="1" height="22"/><rect x="586" y="511" width="1" height="9"/><rect x="594" y="528" width="1" height="12"/><rect x="602" y="507" width="1" height="17"/><rect x="606" y="475" width="1" height="32"/><rect x="610" y="457" width="1" height="17"/><rect x="614" y="449" width="1" height="8"/><rect x="618" y="438" width="1" height="10"/><rect x="626" y="445" width="1" height="1"/><rect x="638" y="425" width="1" height="3"/><rect x="650" y="452" width="1" height="19"/><rect x="666" y="509" width="1" height="12"/><rect x="674" y="508" width="1" height="3"/><rect x="698" y="523" width="1" height="21"/><rect x="714" y="627" width="1" height="27"/><rect x="730" y="569" width="1" height="123"/><rect x="734" y="483" width="1" height="87"/><rect x="738" y="467" width="1" height="15"/><rect x="746" y="459" width="1" height="14"/><rect x="754" y="485" width="1" height="7"/><rect x="758" y="471" width="1" height="13"/><rect x="766" y="502" width="1" height="6"/><rect x="770" y="496" width="1" height="6"/><rect x="778" y="524" width="1" height="2"/><rect x="794" y="566" width="1" height="13"/><rect x="802" y="568" width="1" height="2"/><rect x="814" y="584" width="1" height="7"/><rect x="822" y="525" width="1" height="18"/><rect x="826" y="519" width="1" height="5"/><rect x="830" y="511" width="1" height="8"/><rect x="842" y="519" width="1" height="8"/><rect x="878" y="570" width="1" height="13"/><rect x="882" y="561" width="1" height="10"/><rect x="906" y="639" width="1" height="16"/><rect x="926" y="674" width="1" height="6"/><rect x="934" y="646" width="1" height="2"/><rect x="954" y="688" width="1" height="12"/><rect x="966" y="672" width="1" height="34"/><rect x="982" y="685" width="1" height="2"/><rect x="990" y="692" width="1" height="2"/><rect x="998" y="678" width="1" height="21"/><rect x="1006" y="685" width="1" height="13"/><rect x="1010" y="666" width="1" height="19"/><rect x="1022" y="712" width="1" height="10"/><rect x="1042" y="724" width="1" height="3"/><rect x="1050" y="634" width="1" height="64"/><rect x="1066" y="678" width="1" height="26"/><rect x="1070" y="665" width="1" height="10"/><rect x="1074" y="644" width="1" height="21"/><rect x="1082" y="650" width="1" height="5"/><rect x="1086" y="609" width="1" height="40"/><rect x="1094" y="615" width="1" height="4"/><rect x="1098" y="593" width="1" height="21"/><rect x="1102" y="538" width="1" height="20"/><rect x="1118" y="597" width="1" height="6"/><rect x="1130" y="597" width="1" height="10"/><rect x="1134" y="583" width="1" height="13"/><rect x="1142" y="582" width="1" height="2"/><rect x="1154" y="587" width="1" height="7"/><rect x="1158" y="660" width="1" height="5"/><rect x="1162" y="614" width="1" height="45"/><rect x="1166" y="611" width="1" height="2"/><rect x="1174" y="608" width="1" height="5"/><rect x="1178" y="589" width="1" height="16"/><rect x="1186" y="559" width="1" height="30"/><rect x="1190" y="553" width="1" height="5"/><rect x="1194" y="550" width="1" height="3"/><rect x="1198" y="548" width="1" height="2"/><rect x="1206" y="549" width="1" height="5"/><rect x="1210" y="547" width="1" height="3"/><rect x="1222" y="567" width="1" height="2"/><rect x="1230" y="585" width="1" height="2"/><rect x="1242" y="567" width="1" height="42"/><rect x="1262" y="597" width="1" height="4"/><rect x="1266" y="594" width="1" height="2"/><rect x="1270" y="581" width="1" height="4"/><rect x="1274" y="544" width="1" height="41"/><rect x="1278" y="525" width="1" height="19"/><rect x="1282" y="523" width="1" height="2"/><rect x="1286" y="516" width="1" height="6"/><rect x="1290" y="499" width="1" height="17"/><rect x="1310" y="511" width="1" height="1"/><rect x="1318" y="516" width="1" height="6"/><rect x="1334" y="511" width="1" height="21"/><rect x="1358" y="600" width="1" height="2"/><rect x="1366" y="584" width="1" height="14"/><rect x="1370" y="582" width="1" height="3"/><rect x="1378" y="543" width="1" height="51"/><rect x="1382" y="413" width="1" height="5"/><rect x="1386" y="396" width="1" height="16"/><rect x="1390" y="364" width="1" height="31"/><rect x="1398" y="341" width="1" height="21"/><rect x="1406" y="326" width="1" height="16"/><rect x="1410" y="311" width="1" height="15"/><rect x="1426" y="356" width="1" height="2"/><rect x="1434" y="371" width="1" height="2"/><rect x="1438" y="373" width="1" height="3"/><rect x="1446" y="356" width="1" height="19"/><rect x="1458" y="345" width="1" height="33"/><rect x="1462" y="318" width="1" height="26"/><rect x="1470" y="323" width="1" height="2"/><rect x="1478" y="266" width="1" height="50"/><rect x="1482" y="258" width="1" height="8"/><rect x="1498" y="284" width="1" height="21"/><rect x="1506" y="256" width="1" height="32"/><rect x="1518" y="252" width="1" height="6"/><rect x="1522" y="226" width="1" height="25"/><rect x="1526" y="182" width="1" height="43"/><rect x="1538" y="185" width="1" height="3"/><rect x="1542" y="166" width="1" height="19"/><rect x="1546" y="156" width="1" height="7"/><rect x="1558" y="241" width="1" height="20"/><rect x="1562" y="222" width="1" height="19"/><rect x="1566" y="201" width="1" height="20"/><rect x="1570" y="190" width="1" height="12"/><rect x="1578" y="164" width="1" height="26"/><rect x="1590" y="158" width="1" height="24"/><rect x="1594" y="155" width="1" height="1"/><rect x="1598" y="151" width="1" height="3"/><rect x="1602" y="146" width="1" height="4"/><rect x="1606" y="134" width="1" height="10"/><rect x="1610" y="105" width="1" height="28"/><rect x="1614" y="98" width="1" height="6"/><rect x="1626" y="148" width="1" height="2"/><rect x="1634" y="154" width="1" height="11"/><rect x="1650" y="149" width="1" height="1"/><rect x="1658" y="147" width="1" height="1"/><rect x="1670" y="153" width="1" height="13"/><rect x="1678" y="138" width="1" height="17"/><rect x="1682" y="123" width="1" height="14"/><rect x="1706" y="145" width="1" height="1"/><rect x="1710" y="143" width="1" height="2"/><rect x="1714" y="133" width="1" height="8"/><rect x="1718" y="112" width="1" height="24"/><rect x="1734" y="150" width="1" height="3"/><rect x="1738" y="145" width="1" height="7"/><rect x="1750" y="194" width="1" height="13"/><rect x="1754" y="189" width="1" height="4"/><rect x="1766" y="177" width="1" height="11"/></g>
<g clip-path="url(#ca)">
<polyline points="2,352.77 6,351.29 10,351.33 14,350.0 18,363.39 22,377.75 26,387.33 30,405.96 34,429.59 38,441.27 42,437.16 46,444.27 50,460.58 54,470.43 58,477.67 62,482.16 66,480.4 70,473.1 74,481.16 78,483.47 82,486.03 86,475.83 90,455.44 94,460.88 98,456.69 102,458.31 106,457.02 110,452.41 114,444.58 118,438.68 122,434.07 126,428.28 130,420.67 134,407.78 138,411.09 142,408.54 146,408.87 150,410.46 154,408.11 158,406.21 162,411.74 166,414.07 170,421.74 174,431.96 178,437.07 182,441.15 186,442.86 190,450.79 194,459.82 198,470.94 202,480.4 206,490.1 210,499.63 214,516.18 218,521.78 222,525.85 226,530.94 230,540.11 234,544.87 238,547.7 242,579.17 246,591.99 250,611.41 254,603.96 258,599.34 262,596.59 266,581.16 270,581.76 274,567.53 278,556.35 282,543.12 286,534.29 290,519.23 294,481.65 298,466.79 302,464.37 306,466.84 310,447.4 314,433.42 318,419.68 322,417.66 326,417.0 330,400.91 334,389.85 338,382.48 342,365.32 346,366.46 350,378.1 354,378.04 358,386.84 362,394.07 366,396.85 370,397.34 374,408.21 378,416.13 382,418.36 386,399.1 390,387.28 394,383.14 398,381.4 402,377.52 406,375.96 410,385.79 414,388.61 418,380.29 422,368.96 426,362.43 430,341.75 434,332.73 438,343.04 442,345.83 446,349.39 450,350.06 454,350.85 458,353.41 462,357.84 466,369.64 470,403.34 474,429.89 478,445.89 482,454.85 486,453.35 490,451.67 494,441.37 498,437.22 502,431.74 506,430.8 510,432.89 514,432.93 518,431.94 522,422.77 526,435.7 530,447.04 534,464.46 538,471.66 542,475.77 546,469.68 550,454.05 554,452.82 558,452.33 562,452.35 566,453.04 570,452.48 574,448.03 578,443.02 582,436.28 586,441.99 590,441.38 594,439.95 598,432.87 602,417.28 606,400.76 610,387.03 614,374.13 618,368.6 622,364.23 626,361.99 630,361.18 634,352.48 638,359.26 642,367.19 646,365.67 650,370.77 654,378.26 658,397.53 662,405.27 666,411.12 670,413.99 674,418.29 678,420.82 682,425.9 686,431.33 690,440.73 694,438.83 698,437.91 702,446.14 706,486.98 710,505.03 714,521.82 718,551.72 722,570.97 726,541.3 730,492.28 734,454.16 738,430.45 742,410.22 746,408.3 750,404.29 754,396.86 758,395.31 762,401.42 766,403.45 770,415.68 774,422.47 778,433.8 782,441.7 786,458.86 790,465.54 794,471.02 798,474.33 802,478.91 806,487.75 810,490.92 814,495.08 818,475.75 822,460.82 826,448.15 830,443.78 834,443.25 838,439.15 842,438.46 846,441.41 850,443.71 854,445.58 858,446.83 862,447.66 866,452.3 870,455.39 874,464.59 878,467.66 882,482.97 886,501.33 890,518.34 894,529.67 898,544.03 902,547.14 906,555.68 910,563.41 914,572.3 918,580.27 922,583.2 926,590.26 930,580.34 934,581.21 938,589.27 942,597.7 946,604.0 950,603.78 954,604.32 958,610.45 962,602.64 966,599.82 970,597.59 974,599.85 978,600.0 982,601.45 986,603.44 990,607.83 994,602.94 998,606.81 1002,604.64 1006,596.73 1010,596.55 1014,610.72 1018,616.42 1022,622.94 1026,626.27 1030,629.85 1034,634.61 1038,636.43 1042,628.8 1046,601.96 1050,601.4 1054,601.37 1058,608.15 1062,603.15 1066,595.39 1070,583.08 1074,578.62 1078,573.94 1082,556.88 1086,548.91 1090,542.24 1094,530.31 1098,503.65 1102,501.86 1106,502.03 1110,507.24 1114,508.34 1118,510.09 1122,513.63 1126,512.6 1130,507.15 1134,504.19 1138,501.2 1142,500.57 1146,502.87 1150,502.02 1154,526.28 1158,526.81 1162,526.14 1166,526.03 1170,524.6 1174,517.19 1178,512.59 1182,498.98 1186,487.87 1190,479.44 1194,473.14 1198,470.98 1202,467.84 1206,465.07 1210,465.94 1214,472.3 1218,474.84 1222,485.04 1226,489.45 1230,493.42 1234,503.54 1238,495.67 1242,499.94 1246,502.79 1250,506.73 1254,509.69 1258,509.97 1262,509.14 1266,504.16 1270,488.26 1274,471.2 1278,459.15 1282,448.74 1286,436.01 1290,427.53 1294,424.6 1298,424.68 1302,424.73 1306,424.09 1310,427.74 1314,427.8 1318,428.17 1322,433.52 1326,437.09 1330,432.33 1334,432.55 1338,446.3 1342,457.17 1346,469.18 1350,485.0 1354,494.53 1358,500.54 1362,499.45 1366,498.04 1370,501.52 1374,486.16 1378,431.72 1382,389.65 1386,350.72 1390,324.77 1394,299.65 1398,283.58 1402,267.09 1406,250.99 1410,255.56 1414,259.97 1418,262.57 1422,263.28 1426,269.54 1430,273.03 1434,276.03 1438,279.4 1442,274.5 1446,271.57 1450,277.11 1454,269.23 1458,254.8 1462,247.9 1466,242.28 1470,238.2 1474,216.43 1478,199.2 1482,190.78 1486,185.16 1490,194.68 1494,193.54 1498,194.14 1502,183.66 1506,177.36 1510,173.83 1514,168.76 1518,156.54 1522,133.44 1526,118.71 1530,110.94 1534,104.05 1538,93.0 1542,82.24 1546,105.32 1550,126.49 1554,133.46 1558,131.65 1562,123.3 1566,114.0 1570,108.47 1574,95.27 1578,89.53 1582,88.08 1586,79.64 1590,72.99 1594,67.19 1598,61.63 1602,53.84 1606,38.79 1610,26.38 1614,28.64 1618,38.31 1622,43.05 1626,52.34 1630,54.45 1634,55.51 1638,56.56 1642,56.58 1646,55.58 1650,55.25 1654,54.01 1658,54.88 1662,60.56 1666,59.59 1670,59.96 1674,54.09 1678,45.07 1682,40.43 1686,42.77 1690,45.35 1694,47.07 1698,48.55 1702,48.86 1706,48.39 1710,44.68 1714,35.06 1718,34.77 1722,42.73 1726,48.38 1730,50.45 1734,50.13 1738,60.79 1742,78.45 1746,85.45 1750,88.42 1754,90.06 1758,91.5 1762,88.37 1766,86.63" fill="none" stroke="#008000" stroke-width="2" stroke-linejoin="round" shape-rendering="crispEdges"/>
<polyline points="2,529.9 6,528.49 10,528.52 14,527.24 18,540.1 22,553.91 26,563.11 30,581.0 34,603.71 38,614.93 42,610.98 46,617.82 50,633.48 54,642.95 58,649.91 62,654.22 66,652.53 70,645.52 74,653.26 78,655.48 82,657.94 86,648.14 90,628.55 94,633.78 98,629.75 102,631.31 106,630.07 110,625.64 114,618.12 118,612.45 122,608.02 126,602.45 130,595.15 134,582.76 138,585.94 142,583.48 146,583.81 150,585.33 154,583.08 158,581.25 162,586.57 166,588.8 170,596.17 174,605.99 178,610.9 182,614.82 186,616.46 190,624.08 194,632.76 198,643.45 202,652.53 206,661.85 210,671.01 214,686.91 218,692.28 222,696.19 226,701.09 230,709.9 234,714.47 238,717.19 242,747.43 246,759.74 250,778.41 254,771.25 258,766.8 262,764.17 266,749.34 270,749.91 274,736.25 278,725.5 282,712.79 286,704.31 290,689.84 294,653.73 298,639.46 302,637.13 306,639.5 310,620.82 314,607.39 318,594.19 322,592.25 326,591.61 330,576.16 334,565.53 338,558.45 342,541.96 346,543.06 350,554.24 354,554.19 358,562.64 362,569.59 366,572.26 370,572.73 374,583.17 378,590.79 382,592.92 386,574.42 390,563.06 394,559.09 398,557.42 402,553.69 406,552.18 410,561.63 414,564.34 418,556.35 422,545.46 426,539.19 430,519.32 434,510.65 438,520.55 442,523.23 446,526.65 450,527.3 454,528.06 458,530.52 462,534.78 466,546.11 470,578.49 474,604.0 478,619.37 482,627.99 486,626.54 490,624.93 494,615.03 498,611.04 502,605.77 506,604.87 510,606.89 514,606.92 518,605.97 522,597.16 526,609.59 530,620.48 534,637.22 538,644.13 542,648.09 546,642.23 550,627.22 554,626.03 558,625.56 562,625.58 566,626.25 570,625.71 574,621.43 578,616.62 582,610.14 586,615.63 590,615.04 594,613.66 598,606.87 602,591.88 606,576.01 610,562.82 614,550.43 618,545.11 622,540.91 626,538.77 630,537.99 634,529.63 638,536.15 642,543.76 646,542.29 650,547.2 654,554.39 658,572.91 662,580.35 666,585.96 670,588.73 674,592.86 678,595.28 682,600.17 686,605.38 690,614.41 694,612.59 698,611.71 702,619.61 706,658.85 710,676.19 714,692.33 718,721.05 722,739.54 726,711.04 730,663.95 734,627.32 738,604.54 742,585.1 746,583.25 750,579.41 754,572.27 758,570.78 762,576.64 766,578.59 770,590.35 774,596.88 778,607.76 782,615.35 786,631.84 790,638.26 794,643.52 798,646.69 802,651.1 806,659.59 810,662.64 814,666.63 818,648.06 822,633.72 826,621.54 830,617.35 834,616.84 838,612.9 842,612.24 846,615.06 850,617.27 854,619.07 858,620.27 862,621.07 866,625.53 870,628.5 874,637.34 878,640.29 882,655.0 886,672.64 890,688.98 894,699.87 898,713.67 902,716.66 906,724.86 910,732.28 914,740.83 918,748.48 922,751.3 926,758.08 930,748.55 934,749.38 938,757.13 942,765.23 946,771.28 950,771.07 954,771.59 958,777.48 962,769.98 966,767.27 970,765.13 974,767.3 978,767.44 982,768.84 986,770.75 990,774.96 994,770.26 998,773.99 1002,771.9 1006,764.29 1010,764.13 1014,777.74 1018,783.22 1022,789.48 1026,792.68 1030,796.12 1034,800.7 1038,802.44 1042,795.11 1046,769.32 1050,768.79 1054,768.75 1058,775.27 1062,770.46 1066,763.01 1070,751.19 1074,746.9 1078,742.4 1082,726.01 1086,718.35 1090,711.94 1094,700.48 1098,674.87 1102,673.15 1106,673.31 1110,678.32 1114,679.37 1118,681.05 1122,684.46 1126,683.46 1130,678.23 1134,675.39 1138,672.52 1142,671.91 1146,674.12 1150,673.3 1154,696.61 1158,697.12 1162,696.48 1166,696.38 1170,695.0 1174,687.88 1178,683.46 1182,670.38 1186,659.71 1190,651.61 1194,645.56 1198,643.48 1202,640.47 1206,637.8 1210,638.64 1214,644.75 1218,647.19 1222,656.99 1226,661.23 1230,665.04 1234,674.76 1238,667.2 1242,671.31 1246,674.04 1250,677.83 1254,680.68 1258,680.94 1262,680.14 1266,675.36 1270,660.08 1274,643.69 1278,632.11 1282,622.11 1286,609.88 1290,601.73 1294,598.91 1298,598.99 1302,599.05 1306,598.43 1310,601.94 1314,601.99 1318,602.35 1322,607.49 1326,610.92 1330,606.34 1334,606.56 1338,619.77 1342,630.21 1346,641.75 1350,656.95 1354,666.1 1358,671.88 1362,670.83 1366,669.48 1370,672.82 1374,658.07 1378,605.76 1382,565.34 1386,527.94 1390,503.0 1394,478.87 1398,463.43 1402,447.58 1406,432.12 1410,436.51 1414,440.75 1418,443.24 1422,443.93 1426,449.94 1430,453.29 1434,456.18 1438,459.41 1442,454.7 1446,451.89 1450,457.21 1454,449.64 1458,435.78 1462,429.15 1466,423.75 1470,419.83 1474,398.92 1478,382.36 1482,374.27 1486,368.87 1490,378.01 1494,376.92 1498,377.5 1502,367.43 1506,361.37 1510,357.99 1514,353.12 1518,341.38 1522,319.17 1526,305.03 1530,297.56 1534,290.94 1538,280.33 1542,269.98 1546,292.16 1550,312.5 1554,319.2 1558,317.46 1562,309.44 1566,300.5 1570,295.19 1574,282.5 1578,276.99 1582,275.6 1586,267.48 1590,261.09 1594,255.53 1598,250.18 1602,242.7 1606,228.24 1610,216.31 1614,218.49 1618,227.77 1622,232.33 1626,241.25 1630,243.28 1634,244.31 1638,245.32 1642,245.34 1646,244.37 1650,244.05 1654,242.86 1658,243.7 1662,249.16 1666,248.22 1670,248.58 1674,242.94 1678,234.28 1682,229.81 1686,232.06 1690,234.54 1694,236.19 1698,237.62 1702,237.92 1706,237.46 1710,233.89 1714,224.65 1718,224.37 1722,232.03 1726,237.46 1730,239.44 1734,239.13 1738,249.38 1742,266.34 1746,273.07 1750,275.93 1754,277.5 1758,278.88 1762,275.88 1766,274.2" fill="none" stroke="#008000" stroke-width="2" stroke-linejoin="round" shape-rendering="crispEdges"/>
<polyline points="2,354.0 6,358.69 10,363.16 14,367.55 18,371.46 22,377.55 26,384.21 30,390.48 34,398.45 38,407.85 42,416.03 46,421.75 50,428.79 54,437.37 58,445.29 62,452.88 66,459.97 70,465.86 74,470.38 78,476.82 82,482.37 86,487.78 90,490.88 94,491.51 98,495.31 102,497.58 106,500.46 110,502.78 114,504.33 118,505.0 122,505.51 126,505.88 130,505.78 134,505.05 138,503.04 142,503.15 146,502.46 150,502.15 154,502.08 158,501.45 162,500.8 166,501.32 170,501.59 174,502.87 178,504.93 182,506.59 186,508.28 190,509.69 194,512.16 198,515.13 202,518.78 206,522.56 210,526.7 214,531.12 218,537.0 222,541.62 226,546.05 230,550.61 234,555.89 238,560.64 242,565.06 246,574.2 250,581.45 254,590.11 258,594.84 262,599.37 266,603.69 270,605.48 274,608.99 278,609.85 282,610.37 286,609.9 290,609.44 294,607.48 298,600.99 302,596.59 306,593.7 310,591.66 314,586.2 318,580.87 322,575.11 326,570.87 330,566.99 334,560.71 338,554.72 342,549.08 346,541.71 350,536.87 354,534.13 358,530.24 362,528.05 366,526.22 370,524.15 374,521.97 378,521.69 382,521.53 386,520.87 390,516.77 394,513.07 398,510.21 402,507.68 406,504.84 410,502.34 414,501.8 418,500.67 422,497.89 426,494.3 430,491.08 434,485.3 438,480.66 442,479.02 446,476.79 450,474.97 454,472.97 458,471.15 462,469.77 466,468.92 470,469.61 474,474.61 478,480.0 482,484.8 486,489.04 490,491.78 494,494.25 498,495.04 502,496.23 506,496.91 510,498.0 514,499.48 518,500.66 522,501.59 526,501.04 530,503.73 534,506.71 538,511.19 542,514.66 546,517.82 550,519.32 554,518.79 558,519.83 562,520.87 566,521.9 570,522.99 574,523.85 578,523.97 582,523.75 586,522.96 590,523.93 594,524.11 598,524.1 602,523.07 606,520.27 610,516.59 614,512.67 618,508.35 622,504.79 626,501.31 630,498.15 634,495.29 638,491.21 642,489.49 646,488.43 650,486.29 654,485.3 658,485.06 662,487.23 666,488.41 670,489.65 674,490.64 678,491.97 682,493.17 686,494.88 690,496.83 694,499.64 698,500.92 702,502.18 706,504.85 710,513.32 714,519.76 718,526.63 722,536.25 726,545.21 730,546.51 734,542.82 738,538.43 742,534.58 746,530.2 750,528.02 754,525.51 758,522.33 762,519.91 766,518.83 770,517.47 774,518.02 778,518.3 782,519.71 786,521.1 790,524.41 794,526.73 798,529.09 802,531.25 806,533.7 810,536.97 814,539.6 818,542.42 822,541.37 826,540.04 830,538.32 834,537.39 838,536.91 842,535.83 846,535.15 850,535.09 854,535.08 858,535.13 862,535.18 866,535.23 870,535.96 874,536.65 878,538.5 882,539.72 886,543.11 890,547.68 894,552.78 898,557.59 902,563.27 906,567.54 910,572.66 914,577.82 918,583.31 922,588.84 926,593.65 930,599.04 934,601.67 938,605.4 942,610.18 946,615.2 950,620.04 954,623.87 958,627.59 962,632.07 966,634.29 970,636.79 974,639.09 978,641.88 982,644.29 986,646.79 990,649.32 994,652.21 998,653.63 1002,656.16 1006,657.75 1010,658.17 1014,659.42 1018,662.99 1022,665.74 1026,668.78 1030,671.48 1034,674.25 1038,677.26 1042,679.88 1046,680.86 1050,678.12 1054,678.46 1058,678.83 1062,680.33 1066,680.14 1070,679.21 1074,677.15 1078,675.82 1082,674.29 1086,670.5 1090,667.5 1094,664.44 1098,660.3 1102,653.26 1106,649.3 1110,645.8 1114,643.35 1118,640.65 1122,638.27 1126,636.42 1130,634.11 1134,631.14 1138,628.44 1142,625.73 1146,623.4 1150,621.67 1154,619.63 1158,621.88 1162,621.37 1166,620.72 1170,620.17 1174,619.41 1178,617.62 1182,615.98 1186,612.67 1190,609.2 1194,605.76 1198,602.4 1202,599.58 1206,596.63 1210,593.74 1214,591.47 1218,590.3 1222,588.91 1226,589.03 1230,588.74 1234,588.64 1238,589.81 1242,588.45 1246,588.76 1250,589.06 1254,589.69 1258,590.33 1262,590.66 1266,590.79 1270,590.18 1274,587.48 1278,583.85 1282,580.32 1286,576.59 1290,572.09 1294,567.86 1298,564.33 1302,561.34 1306,558.52 1310,555.74 1314,553.82 1318,551.6 1322,549.56 1326,548.5 1330,547.5 1334,545.36 1338,543.91 1342,544.83 1346,545.98 1350,547.87 1354,550.96 1358,553.71 1362,556.24 1366,557.77 1370,559.1 1374,561.09 1378,560.0 1382,551.54 1386,542.6 1390,532.33 1394,522.66 1398,512.22 1402,502.49 1406,492.35 1410,481.93 1414,474.68 1418,468.07 1422,461.78 1426,455.68 1430,450.89 1434,446.27 1438,442.03 1442,438.26 1446,433.5 1450,429.07 1454,426.15 1458,421.46 1462,415.49 1466,410.32 1470,405.27 1474,400.45 1478,392.71 1482,384.96 1486,378.16 1490,371.75 1494,367.94 1498,363.08 1502,358.74 1506,352.81 1510,347.33 1514,342.29 1518,337.07 1522,330.67 1526,322.11 1530,314.16 1534,307.01 1538,299.98 1542,292.27 1546,284.43 1550,282.12 1554,280.91 1558,278.57 1562,275.28 1566,270.98 1570,266.3 1574,261.99 1578,256.34 1582,251.52 1586,247.37 1590,242.21 1594,237.17 1598,232.19 1602,227.21 1606,221.82 1610,215.09 1614,208.34 1618,203.75 1622,200.79 1626,197.72 1630,195.85 1634,193.4 1638,191.04 1642,188.86 1646,186.7 1650,184.49 1654,182.46 1658,180.38 1662,178.7 1666,177.97 1670,176.49 1674,175.26 1678,173.07 1682,170.15 1686,167.63 1690,166.17 1694,164.96 1698,163.82 1702,162.8 1706,161.72 1710,160.6 1714,158.96 1718,156.22 1722,154.67 1726,154.57 1730,154.54 1734,154.22 1738,153.64 1742,154.92 1746,157.89 1750,159.9 1754,161.5 1758,162.96 1762,164.39 1766,165.06 1770,165.74" fill="none" stroke="#ff00ff" stroke-width="2" stroke-linejoin="round" shape-rendering="crispEdges"/>
</g>
<rect x="1642" y="152" width="136" height="20" fill="rgb(103,4,103)" style="mix-blend-mode:difference"/>
<text class="ann" x="970.5" y="350" fill="#008000" stroke="#008000" textLength="233" lengthAdjust="spacingAndGlyphs">5 periyotluk Envelope (%2 Sapma)</text>
<text class="ann" x="1122.5" y="399" fill="#ff00ff" stroke="#ff00ff" textLength="195" lengthAdjust="spacingAndGlyphs">34 periyotluk üstel ortalama</text>
<rect x="2.5" y="2.5" width="1860" height="900" fill="none" stroke="#000" stroke-width="1" shape-rendering="crispEdges"/>
<polygon points="1766,3 1775,3 1770.5,7.5" fill="#c0c0c0"/>
<g shape-rendering="crispEdges"><rect x="1863" y="32" width="4" height="1" fill="#000"/><text class="t" x="1868.5" y="36" textLength="37" lengthAdjust="spacingAndGlyphs">16964.00</text><rect x="1863" y="64" width="4" height="1" fill="#000"/><text class="t" x="1868.5" y="68" textLength="37" lengthAdjust="spacingAndGlyphs">16851.00</text><rect x="1863" y="97" width="4" height="1" fill="#000"/><text class="t" x="1868.5" y="101" textLength="37" lengthAdjust="spacingAndGlyphs">16738.00</text><rect x="1863" y="129" width="4" height="1" fill="#000"/><text class="t" x="1868.5" y="133" textLength="37" lengthAdjust="spacingAndGlyphs">16625.00</text><rect x="1863" y="161" width="4" height="1" fill="#000"/><text class="t" x="1868.5" y="165" textLength="37" lengthAdjust="spacingAndGlyphs">16512.00</text><rect x="1863" y="193" width="4" height="1" fill="#000"/><text class="t" x="1868.5" y="197" textLength="37" lengthAdjust="spacingAndGlyphs">16399.00</text><rect x="1863" y="225" width="4" height="1" fill="#000"/><text class="t" x="1868.5" y="229" textLength="37" lengthAdjust="spacingAndGlyphs">16286.00</text><rect x="1863" y="258" width="4" height="1" fill="#000"/><text class="t" x="1868.5" y="262" textLength="37" lengthAdjust="spacingAndGlyphs">16173.00</text><rect x="1863" y="290" width="4" height="1" fill="#000"/><text class="t" x="1868.5" y="294" textLength="37" lengthAdjust="spacingAndGlyphs">16060.00</text><rect x="1863" y="322" width="4" height="1" fill="#000"/><text class="t" x="1868.5" y="326" textLength="37" lengthAdjust="spacingAndGlyphs">15947.00</text><rect x="1863" y="354" width="4" height="1" fill="#000"/><text class="t" x="1868.5" y="358" textLength="37" lengthAdjust="spacingAndGlyphs">15834.00</text><rect x="1863" y="386" width="4" height="1" fill="#000"/><text class="t" x="1868.5" y="390" textLength="37" lengthAdjust="spacingAndGlyphs">15721.00</text><rect x="1863" y="419" width="4" height="1" fill="#000"/><text class="t" x="1868.5" y="423" textLength="37" lengthAdjust="spacingAndGlyphs">15608.00</text><rect x="1863" y="451" width="4" height="1" fill="#000"/><text class="t" x="1868.5" y="455" textLength="37" lengthAdjust="spacingAndGlyphs">15495.00</text><rect x="1863" y="483" width="4" height="1" fill="#000"/><text class="t" x="1868.5" y="487" textLength="37" lengthAdjust="spacingAndGlyphs">15382.00</text><rect x="1863" y="515" width="4" height="1" fill="#000"/><text class="t" x="1868.5" y="519" textLength="37" lengthAdjust="spacingAndGlyphs">15269.00</text><rect x="1863" y="547" width="4" height="1" fill="#000"/><text class="t" x="1868.5" y="551" textLength="37" lengthAdjust="spacingAndGlyphs">15156.00</text><rect x="1863" y="580" width="4" height="1" fill="#000"/><text class="t" x="1868.5" y="584" textLength="37" lengthAdjust="spacingAndGlyphs">15043.00</text><rect x="1863" y="612" width="4" height="1" fill="#000"/><text class="t" x="1868.5" y="616" textLength="37" lengthAdjust="spacingAndGlyphs">14930.00</text><rect x="1863" y="644" width="4" height="1" fill="#000"/><text class="t" x="1868.5" y="648" textLength="37" lengthAdjust="spacingAndGlyphs">14817.00</text><rect x="1863" y="676" width="4" height="1" fill="#000"/><text class="t" x="1868.5" y="680" textLength="37" lengthAdjust="spacingAndGlyphs">14704.00</text><rect x="1863" y="709" width="4" height="1" fill="#000"/><text class="t" x="1868.5" y="713" textLength="37" lengthAdjust="spacingAndGlyphs">14591.00</text><rect x="1863" y="741" width="4" height="1" fill="#000"/><text class="t" x="1868.5" y="745" textLength="37" lengthAdjust="spacingAndGlyphs">14478.00</text><rect x="1863" y="773" width="4" height="1" fill="#000"/><text class="t" x="1868.5" y="777" textLength="37" lengthAdjust="spacingAndGlyphs">14365.00</text><rect x="1863" y="805" width="4" height="1" fill="#000"/><text class="t" x="1868.5" y="809" textLength="37" lengthAdjust="spacingAndGlyphs">14252.00</text><rect x="1863" y="837" width="4" height="1" fill="#000"/><text class="t" x="1868.5" y="841" textLength="37" lengthAdjust="spacingAndGlyphs">14139.00</text><rect x="1863" y="870" width="4" height="1" fill="#000"/><text class="t" x="1868.5" y="874" textLength="37" lengthAdjust="spacingAndGlyphs">14026.00</text><rect x="1865" y="17" width="44" height="11" fill="#000"/><text class="t w" x="1868.5" y="26" textLength="37" lengthAdjust="spacingAndGlyphs">17000.00</text><rect x="1865" y="55" width="44" height="11" fill="#000"/><text class="t w" x="1868.5" y="64" textLength="37" lengthAdjust="spacingAndGlyphs">16865.00</text><rect x="1865" y="88" width="44" height="11" fill="#000"/><text class="t w" x="1868.5" y="97" textLength="37" lengthAdjust="spacingAndGlyphs">16750.00</text><rect x="1865" y="124" width="44" height="11" fill="#000"/><text class="t w" x="1868.5" y="133" textLength="37" lengthAdjust="spacingAndGlyphs">16625.00</text><rect x="1865" y="157" width="44" height="11" fill="#000"/><text class="t w" x="1868.5" y="166" textLength="37" lengthAdjust="spacingAndGlyphs">16510.00</text><rect x="1865" y="201" width="44" height="11" fill="#000"/><text class="t w" x="1868.5" y="210" textLength="37" lengthAdjust="spacingAndGlyphs">16355.00</text><rect x="1865" y="235" width="44" height="11" fill="#000"/><text class="t w" x="1868.5" y="244" textLength="37" lengthAdjust="spacingAndGlyphs">16235.00</text><rect x="1865" y="273" width="44" height="11" fill="#000"/><text class="t w" x="1868.5" y="282" textLength="37" lengthAdjust="spacingAndGlyphs">16100.00</text><rect x="1865" y="316" width="44" height="11" fill="#000"/><text class="t w" x="1868.5" y="325" textLength="37" lengthAdjust="spacingAndGlyphs">15950.00</text><rect x="1865" y="373" width="44" height="11" fill="#000"/><text class="t w" x="1868.5" y="382" textLength="37" lengthAdjust="spacingAndGlyphs">15750.00</text><rect x="1865" y="417" width="44" height="11" fill="#000"/><text class="t w" x="1868.5" y="426" textLength="37" lengthAdjust="spacingAndGlyphs">15595.00</text><rect x="1865" y="452" width="44" height="11" fill="#000"/><text class="t w" x="1868.5" y="461" textLength="37" lengthAdjust="spacingAndGlyphs">15475.00</text><rect x="1865" y="486" width="44" height="11" fill="#000"/><text class="t w" x="1868.5" y="495" textLength="37" lengthAdjust="spacingAndGlyphs">15355.00</text><rect x="1865" y="517" width="44" height="11" fill="#000"/><text class="t w" x="1868.5" y="526" textLength="37" lengthAdjust="spacingAndGlyphs">15245.00</text><rect x="1865" y="551" width="44" height="11" fill="#000"/><text class="t w" x="1868.5" y="560" textLength="37" lengthAdjust="spacingAndGlyphs">15125.00</text><rect x="1865" y="580" width="44" height="11" fill="#000"/><text class="t w" x="1868.5" y="589" textLength="37" lengthAdjust="spacingAndGlyphs">15025.00</text><rect x="1865" y="610" width="44" height="11" fill="#000"/><text class="t w" x="1868.5" y="619" textLength="37" lengthAdjust="spacingAndGlyphs">14920.00</text><rect x="1865" y="638" width="44" height="11" fill="#000"/><text class="t w" x="1868.5" y="647" textLength="37" lengthAdjust="spacingAndGlyphs">14820.00</text><rect x="1865" y="670" width="44" height="11" fill="#000"/><text class="t w" x="1868.5" y="679" textLength="37" lengthAdjust="spacingAndGlyphs">14710.00</text><rect x="1865" y="701" width="44" height="11" fill="#000"/><text class="t w" x="1868.5" y="710" textLength="37" lengthAdjust="spacingAndGlyphs">14600.00</text><rect x="1865" y="732" width="44" height="11" fill="#000"/><text class="t w" x="1868.5" y="741" textLength="37" lengthAdjust="spacingAndGlyphs">14490.00</text><rect x="1865" y="758" width="44" height="11" fill="#000"/><text class="t w" x="1868.5" y="767" textLength="37" lengthAdjust="spacingAndGlyphs">14400.00</text><rect x="1865" y="170" width="44" height="12" fill="#c0c0c0"/><text class="t w" x="1868.5" y="180" textLength="37" lengthAdjust="spacingAndGlyphs">16460.00</text></g>
<g shape-rendering="crispEdges"><rect x="2" y="903" width="1" height="4" fill="#000"/><text class="t" x="2" y="915" textLength="46.8" lengthAdjust="spacingAndGlyphs">2 Mar 2026</text><rect x="66" y="903" width="1" height="4" fill="#000"/><text class="t" x="66" y="915" textLength="49.4" lengthAdjust="spacingAndGlyphs">3 Mar 20:00</text><rect x="130" y="903" width="1" height="4" fill="#000"/><text class="t" x="130" y="915" textLength="49.4" lengthAdjust="spacingAndGlyphs">4 Mar 22:00</text><rect x="194" y="903" width="1" height="4" fill="#000"/><text class="t" x="194" y="915" textLength="49.4" lengthAdjust="spacingAndGlyphs">6 Mar 10:00</text><rect x="258" y="903" width="1" height="4" fill="#000"/><text class="t" x="258" y="915" textLength="49.4" lengthAdjust="spacingAndGlyphs">9 Mar 12:00</text><rect x="322" y="903" width="1" height="4" fill="#000"/><text class="t" x="322" y="915" textLength="54.5" lengthAdjust="spacingAndGlyphs">10 Mar 14:00</text><rect x="386" y="903" width="1" height="4" fill="#000"/><text class="t" x="386" y="915" textLength="53.8" lengthAdjust="spacingAndGlyphs">11 Mar 16:00</text><rect x="450" y="903" width="1" height="4" fill="#000"/><text class="t" x="450" y="915" textLength="54.5" lengthAdjust="spacingAndGlyphs">12 Mar 18:00</text><rect x="514" y="903" width="1" height="4" fill="#000"/><text class="t" x="514" y="915" textLength="54.5" lengthAdjust="spacingAndGlyphs">13 Mar 20:00</text><rect x="578" y="903" width="1" height="4" fill="#000"/><text class="t" x="578" y="915" textLength="54.5" lengthAdjust="spacingAndGlyphs">16 Mar 22:00</text><rect x="642" y="903" width="1" height="4" fill="#000"/><text class="t" x="642" y="915" textLength="54.5" lengthAdjust="spacingAndGlyphs">18 Mar 10:00</text><rect x="706" y="903" width="1" height="4" fill="#000"/><text class="t" x="706" y="915" textLength="54.5" lengthAdjust="spacingAndGlyphs">19 Mar 12:00</text><rect x="770" y="903" width="1" height="4" fill="#000"/><text class="t" x="770" y="915" textLength="54.5" lengthAdjust="spacingAndGlyphs">24 Mar 10:00</text><rect x="834" y="903" width="1" height="4" fill="#000"/><text class="t" x="834" y="915" textLength="54.5" lengthAdjust="spacingAndGlyphs">25 Mar 12:00</text><rect x="898" y="903" width="1" height="4" fill="#000"/><text class="t" x="898" y="915" textLength="54.5" lengthAdjust="spacingAndGlyphs">26 Mar 14:00</text><rect x="962" y="903" width="1" height="4" fill="#000"/><text class="t" x="962" y="915" textLength="54.5" lengthAdjust="spacingAndGlyphs">27 Mar 16:00</text><rect x="1026" y="903" width="1" height="4" fill="#000"/><text class="t" x="1026" y="915" textLength="54.5" lengthAdjust="spacingAndGlyphs">30 Mar 18:00</text><rect x="1090" y="903" width="1" height="4" fill="#000"/><text class="t" x="1090" y="915" textLength="54.5" lengthAdjust="spacingAndGlyphs">31 Mar 20:00</text><rect x="1154" y="903" width="1" height="4" fill="#000"/><text class="t" x="1154" y="915" textLength="47.3" lengthAdjust="spacingAndGlyphs">1 Apr 22:00</text><rect x="1218" y="903" width="1" height="4" fill="#000"/><text class="t" x="1218" y="915" textLength="47.3" lengthAdjust="spacingAndGlyphs">3 Apr 10:00</text><rect x="1282" y="903" width="1" height="4" fill="#000"/><text class="t" x="1282" y="915" textLength="47.3" lengthAdjust="spacingAndGlyphs">6 Apr 12:00</text><rect x="1346" y="903" width="1" height="4" fill="#000"/><text class="t" x="1346" y="915" textLength="47.3" lengthAdjust="spacingAndGlyphs">7 Apr 14:00</text><rect x="1410" y="903" width="1" height="4" fill="#000"/><text class="t" x="1410" y="915" textLength="47.3" lengthAdjust="spacingAndGlyphs">8 Apr 16:00</text><rect x="1474" y="903" width="1" height="4" fill="#000"/><text class="t" x="1474" y="915" textLength="47.3" lengthAdjust="spacingAndGlyphs">9 Apr 18:00</text><rect x="1538" y="903" width="1" height="4" fill="#000"/><text class="t" x="1538" y="915" textLength="52.5" lengthAdjust="spacingAndGlyphs">10 Apr 20:00</text><rect x="1602" y="903" width="1" height="4" fill="#000"/><text class="t" x="1602" y="915" textLength="52.5" lengthAdjust="spacingAndGlyphs">13 Apr 22:00</text><rect x="1666" y="903" width="1" height="4" fill="#000"/><text class="t" x="1666" y="915" textLength="52.5" lengthAdjust="spacingAndGlyphs">15 Apr 10:00</text><rect x="1730" y="903" width="1" height="4" fill="#000"/><text class="t" x="1730" y="915" textLength="52.5" lengthAdjust="spacingAndGlyphs">16 Apr 12:00</text></g>
<g shape-rendering="crispEdges"><rect x="9" y="11" width="5" height="2" fill="#fde6e0"/><rect x="9" y="14" width="5" height="2" fill="#fde6e0"/><rect x="15" y="11" width="5" height="2" fill="#d6effd"/><rect x="15" y="14" width="5" height="2" fill="#d6effd"/><rect x="8" y="8" width="6" height="1" fill="#e0362c"/><rect x="8" y="18" width="6" height="1" fill="#e0362c"/><rect x="7" y="9" width="1" height="9" fill="#e0362c"/><rect x="14" y="8" width="7" height="1" fill="#0b5aa8"/><rect x="14" y="18" width="7" height="1" fill="#0b5aa8"/><rect x="21" y="9" width="1" height="9" fill="#0b5aa8"/><rect x="9" y="10" width="5" height="1" fill="#e0362c"/><rect x="9" y="13" width="5" height="1" fill="#e0362c"/><rect x="9" y="16" width="5" height="1" fill="#e0362c"/><rect x="15" y="10" width="5" height="1" fill="#0b5aa8"/><rect x="15" y="13" width="5" height="1" fill="#0b5aa8"/><rect x="15" y="16" width="5" height="1" fill="#0b5aa8"/></g>
<path d="M28.5 9.5 Q28.5 8.5 29.5 8.5 H30.5 Q31.5 8.5 31.5 9.5 V12.5 H33.5 Q34.5 12.5 34.5 13.5 V17.5 Q34.5 18.5 33.5 18.5 H29.5 Q28.5 18.5 28.5 17.5 Z" fill="#fde0d6" stroke="#e0362c"/>
<path d="M36.5 13.5 Q36.5 12.5 37.5 12.5 H39.5 V9.5 Q39.5 8.5 40.5 8.5 H41.5 Q42.5 8.5 42.5 9.5 V17.5 Q42.5 18.5 41.5 18.5 H37.5 Q36.5 18.5 36.5 17.5 Z" fill="#c6e4fb" stroke="#0b5aa8"/>
<rect x="33.5" y="8.5" width="4" height="2" rx="1" fill="#fff" stroke="#a0a0a0"/>
<text class="t" x="48.5" y="17" textLength="192" lengthAdjust="spacingAndGlyphs" style="white-space:pre">F_XU0300426, H1:  Endeks Vis F_XU0300426</text>
</svg></body></html>
